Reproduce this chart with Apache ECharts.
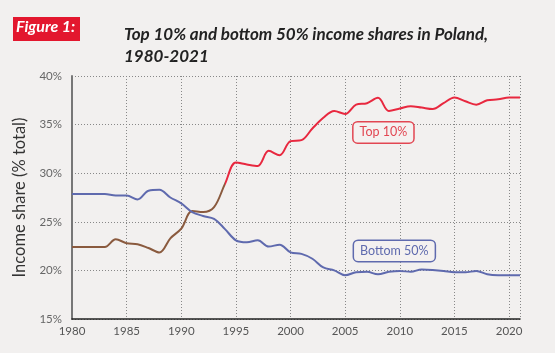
<!DOCTYPE html>
<html>
<head>
<meta charset="utf-8">
<script src="https://cdn.jsdelivr.net/npm/echarts@6/dist/echarts.min.js"></script>
<style>
  html, body { margin: 0; padding: 0; background: #f2f0ef; }
  #chart { width: 555px; height: 353px; }
</style>
</head>
<body>
<div id="chart"></div>
<script>
const years = [1980, 1981, 1982, 1983, 1984, 1985, 1986, 1987, 1988, 1989, 1990,
  1991, 1992, 1993, 1994, 1995, 1996, 1997, 1998, 1999, 2000,
  2001, 2002, 2003, 2004, 2005, 2006, 2007, 2008, 2009, 2010,
  2011, 2012, 2013, 2014, 2015, 2016, 2017, 2018, 2019, 2020, 2021];

const top10 = [22.4, 22.4, 22.4, 22.4, 23.2, 22.8, 22.7, 22.3, 21.85, 23.3, 24.3,
  26.1, 26.0, 26.5, 28.9, 31.1, 30.9, 30.75, 32.3, 31.85, 33.3,
  33.4, 34.6, 35.7, 36.4, 36.1, 37.05, 37.2, 37.75, 36.4, 36.65,
  36.9, 36.75, 36.6, 37.2, 37.8, 37.4, 37.05, 37.5, 37.6, 37.8, 37.8];

const bottom50 = [27.85, 27.85, 27.85, 27.85, 27.7, 27.7, 27.3, 28.2, 28.3, 27.5, 26.9,
  26.0, 25.6, 25.3, 24.25, 23.1, 22.9, 23.1, 22.45, 22.65, 21.85,
  21.7, 21.2, 20.3, 20.0, 19.5, 19.8, 19.85, 19.6, 19.85, 19.95,
  19.85, 20.1, 20.05, 19.95, 19.8, 19.8, 19.95, 19.6, 19.5, 19.5, 19.5];

const yTicks = [15, 20, 25, 30, 35, 40];

// top 10% line turns from brown to red here
const colorSwitchYear = 1994;

const BROWN = '#8a5a3e';
const RED = '#e8283f';
const BLUE = '#5f6aae';

const myChart = echarts.init(document.getElementById('chart'));

const labelBox = (color) => ({
  show: true,
  color: color,
  fontFamily: 'Lato',
  fontSize: 12.5,
  backgroundColor: '#f4f1f0',
  borderColor: color,
  borderWidth: 1.5,
  borderRadius: 4,
  padding: [4, 6, 3, 6],
  formatter: p => p.name,
});

const option = {
  backgroundColor: '#f2f0ef',
  animation: false,
  graphic: [
    {
      type: 'rect',
      left: 13, top: 17,
      shape: { width: 67, height: 24 },
      style: { fill: '#e3172e' },
    },
    {
      type: 'text',
      left: 16, top: 19,
      style: {
        text: 'Figure 1:',
        fill: '#ffffff',
        font: 'italic bold 16px Lato',
      },
    },
    {
      type: 'text',
      left: 124, top: 24,
      style: {
        text: 'Top 10% and bottom 50% income shares in Poland,\n1980-2021',
        fill: '#222222',
        font: 'italic bold 17px Lato',
        lineHeight: 22,
      },
    },
  ],
  grid: {
    left: 72,
    right: 35,
    top: 76,
    bottom: 34,
  },
  xAxis: {
    type: 'value',
    min: 1980,
    max: 2021,
    interval: 5,
    axisLine: { lineStyle: { color: '#222', width: 1.5 } },
    axisTick: { show: false },
    axisLabel: {
      color: '#555',
      fontFamily: 'Lato',
      fontSize: 11.5,
      margin: 6,
      formatter: v => String(v),
    },
    splitLine: {
      show: true,
      lineStyle: { color: '#888', type: [1, 2], width: 1 },
    },
  },
  yAxis: {
    type: 'value',
    min: yTicks[0],
    max: yTicks[yTicks.length - 1],
    interval: 5,
    name: 'Income share (% total)',
    nameLocation: 'middle',
    nameGap: 38,
    nameTextStyle: { color: '#333', fontFamily: 'Lato', fontSize: 16.5 },
    axisLine: { show: true, lineStyle: { color: '#777', width: 2 } },
    axisTick: { show: false },
    axisLabel: {
      color: '#666',
      fontFamily: 'Lato',
      fontSize: 11.5,
      margin: 10,
      formatter: v => v + '%',
    },
    splitLine: {
      show: true,
      lineStyle: { color: '#888', type: [1, 2], width: 1 },
    },
  },
  series: [
    {
      name: 'Top 10%',
      type: 'line',
      smooth: 0.35,
      symbol: 'none',
      lineStyle: { width: 2, color: RED },
      itemStyle: { color: RED },
      data: years.map((y, i) => [y, top10[i]]),
      markPoint: {
        symbol: 'rect',
        symbolSize: 1,
        itemStyle: { color: 'rgba(0,0,0,0)' },
        label: labelBox('#e24652'),
        data: [{ name: 'Top 10%', coord: [2008.5, 34.2] }],
      },
    },
    {
      name: 'Bottom 50%',
      type: 'line',
      smooth: 0.35,
      symbol: 'none',
      lineStyle: { width: 2, color: BLUE },
      itemStyle: { color: BLUE },
      data: years.map((y, i) => [y, bottom50[i]]),
      markPoint: {
        symbol: 'rect',
        symbolSize: 1,
        itemStyle: { color: 'rgba(0,0,0,0)' },
        label: labelBox(BLUE),
        data: [{ name: 'Bottom 50%', coord: [2009.5, 22.0] }],
      },
    },
  ],
};

myChart.setOption(option);

// brown -> red switch, placed through the x axis scale
const x0 = myChart.convertToPixel({ xAxisIndex: 0 }, 1980);
const x1 = myChart.convertToPixel({ xAxisIndex: 0 }, 2021);
const xs = myChart.convertToPixel({ xAxisIndex: 0 }, colorSwitchYear);
const t = (xs - x0) / (x1 - x0);
myChart.setOption({
  series: [{
    name: 'Top 10%',
    lineStyle: {
      color: new echarts.graphic.LinearGradient(x0, 0, x1, 0, [
        { offset: 0, color: BROWN },
        { offset: t, color: BROWN },
        { offset: t, color: RED },
        { offset: 1, color: RED },
      ], true),
    },
  }],
});

window.addEventListener('resize', myChart.resize);
</script>
</body>
</html>
